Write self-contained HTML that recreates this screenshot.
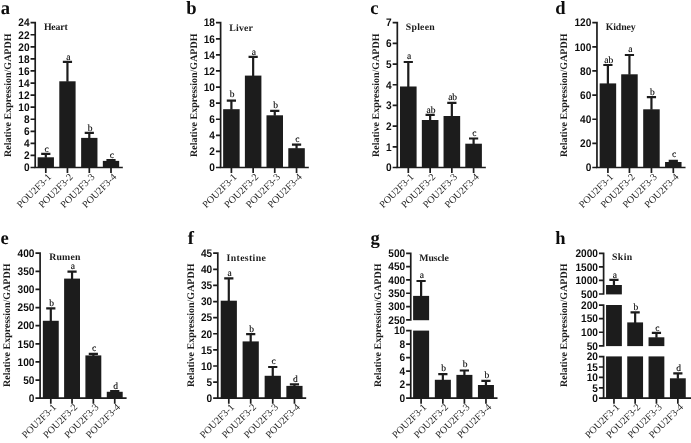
<!DOCTYPE html>
<html lang="en"><head><meta charset="utf-8"><title>Relative expression of POU2F3 transcripts in tissues</title>
<style>
html,body{margin:0;padding:0;background:#fff;}
body{width:691px;height:443px;overflow:hidden;}
svg{display:block;text-rendering:geometricPrecision;}
.pl{font-family:"Liberation Serif", "Times New Roman", Times, serif;font-weight:bold;font-size:18.6px;fill:#111;}
.tt{font-family:"Liberation Serif", "Times New Roman", Times, serif;font-weight:bold;font-size:9.8px;fill:#1a1a1a;}
.yl{font-family:"Liberation Serif", "Times New Roman", Times, serif;font-weight:bold;font-size:10px;fill:#1a1a1a;}
.tk{font-family:"Liberation Sans", Arial, Helvetica, sans-serif;font-weight:bold;font-size:11px;fill:#111;text-anchor:end;}
.sg{font-family:"Liberation Serif", "Times New Roman", Times, serif;font-size:9.5px;fill:#000;stroke:#000;stroke-width:0.12px;text-anchor:middle;}
.xl{font-family:"Liberation Serif", "Times New Roman", Times, serif;font-size:10px;fill:#1e1e1e;text-anchor:end;}
.ax{stroke:#1c1c1c;stroke-width:1.7;fill:none;}
.er{stroke:#1c1c1c;stroke-width:2.2;fill:none;}
.br{fill:#1c1c1c;}
</style></head><body>
<svg width="691" height="443" viewBox="0 0 691 443">
<defs><filter id="soft" x="0" y="0" width="691" height="443" filterUnits="userSpaceOnUse"><feGaussianBlur stdDeviation="0.38"/></filter></defs>
<rect x="0" y="0" width="691" height="443" fill="#ffffff"/>
<g filter="url(#soft)">
<g>
<text class="pl" x="0.8" y="13.9">a</text>
<text class="tt" x="43.9" y="29.7" textLength="23.9" lengthAdjust="spacing">Heart</text>
<text class="yl" text-anchor="middle" transform="translate(11.2 95.25) rotate(-90)" textLength="123.5" lengthAdjust="spacing">Relative Expression/GAPDH</text>
<rect class="br" x="37.65" y="157.3" width="16.3" height="10.2"/>
<path class="er" d="M45.8 157.8V153.9M41.2 153.9H50.4"/>
<text class="sg" x="46.6" y="152">c</text>
<rect class="br" x="59.3" y="81.3" width="16.3" height="86.2"/>
<path class="er" d="M67.45 81.8V61.8M62.85 61.8H72.05"/>
<text class="sg" x="68.25" y="59.6">a</text>
<rect class="br" x="81.15" y="137.9" width="16.3" height="29.6"/>
<path class="er" d="M89.3 138.4V132.9M84.7 132.9H93.9"/>
<text class="sg" x="90.1" y="130.6">b</text>
<rect class="br" x="102.85" y="160.9" width="16.3" height="6.6"/>
<path class="er" d="M111 161.4V160M106.4 160H115.6"/>
<text class="sg" x="111.8" y="158.2">c</text>
<path class="ax" d="M35.2 21.85V167.5M35.2 167.5H30.55M35.2 155.43H30.55M35.2 143.37H30.55M35.2 131.3H30.55M35.2 119.23H30.55M35.2 107.17H30.55M35.2 95.1H30.55M35.2 83.03H30.55M35.2 70.97H30.55M35.2 58.9H30.55M35.2 46.83H30.55M35.2 34.77H30.55M35.2 22.7H30.55"/>
<text class="tk" x="29.6" y="171.25" textLength="5.63" lengthAdjust="spacingAndGlyphs">0</text>
<text class="tk" x="29.6" y="159.18" textLength="5.63" lengthAdjust="spacingAndGlyphs">2</text>
<text class="tk" x="29.6" y="147.12" textLength="5.63" lengthAdjust="spacingAndGlyphs">4</text>
<text class="tk" x="29.6" y="135.05" textLength="5.63" lengthAdjust="spacingAndGlyphs">6</text>
<text class="tk" x="29.6" y="122.98" textLength="5.63" lengthAdjust="spacingAndGlyphs">8</text>
<text class="tk" x="29.6" y="110.92" textLength="11.25" lengthAdjust="spacingAndGlyphs">10</text>
<text class="tk" x="29.6" y="98.85" textLength="11.25" lengthAdjust="spacingAndGlyphs">12</text>
<text class="tk" x="29.6" y="86.78" textLength="11.25" lengthAdjust="spacingAndGlyphs">14</text>
<text class="tk" x="29.6" y="74.72" textLength="11.25" lengthAdjust="spacingAndGlyphs">16</text>
<text class="tk" x="29.6" y="62.65" textLength="11.25" lengthAdjust="spacingAndGlyphs">18</text>
<text class="tk" x="29.6" y="50.58" textLength="11.25" lengthAdjust="spacingAndGlyphs">20</text>
<text class="tk" x="29.6" y="38.52" textLength="11.25" lengthAdjust="spacingAndGlyphs">22</text>
<text class="tk" x="29.6" y="26.45" textLength="11.25" lengthAdjust="spacingAndGlyphs">24</text>
<path class="ax" d="M34.35 167.5H122.8M45.8 167.5V173M67.45 167.5V173M89.3 167.5V173M111 167.5V173"/>
<text class="xl" transform="translate(51.8 177.5) rotate(-45)">POU2F3-1</text>
<text class="xl" transform="translate(73.45 177.5) rotate(-45)">POU2F3-2</text>
<text class="xl" transform="translate(95.3 177.5) rotate(-45)">POU2F3-3</text>
<text class="xl" transform="translate(117 177.5) rotate(-45)">POU2F3-4</text>
</g>
<g>
<text class="pl" x="186.3" y="13.9">b</text>
<text class="tt" x="229.3" y="31.2" textLength="23.6" lengthAdjust="spacing">Liver</text>
<text class="yl" text-anchor="middle" transform="translate(197 95.25) rotate(-90)" textLength="123.5" lengthAdjust="spacing">Relative Expression/GAPDH</text>
<rect class="br" x="223.15" y="109.2" width="16.5" height="58.3"/>
<path class="er" d="M231.4 109.7V100.6M226.8 100.6H236"/>
<text class="sg" x="232.2" y="97">b</text>
<rect class="br" x="244.9" y="75.6" width="16.5" height="91.9"/>
<path class="er" d="M253.15 76.1V56.9M248.55 56.9H257.75"/>
<text class="sg" x="253.95" y="54.8">a</text>
<rect class="br" x="266.5" y="115.3" width="16.5" height="52.2"/>
<path class="er" d="M274.75 115.8V110.8M270.15 110.8H279.35"/>
<text class="sg" x="275.55" y="107.8">b</text>
<rect class="br" x="288.3" y="148.2" width="16.5" height="19.3"/>
<path class="er" d="M296.55 148.7V144.6M291.95 144.6H301.15"/>
<text class="sg" x="297.35" y="141.6">c</text>
<path class="ax" d="M220.6 21.85V167.5M220.6 167.5H215.95M220.6 151.41H215.95M220.6 135.32H215.95M220.6 119.23H215.95M220.6 103.14H215.95M220.6 87.06H215.95M220.6 70.97H215.95M220.6 54.88H215.95M220.6 38.79H215.95M220.6 22.7H215.95"/>
<text class="tk" x="215" y="171.25" textLength="5.63" lengthAdjust="spacingAndGlyphs">0</text>
<text class="tk" x="215" y="155.16" textLength="5.63" lengthAdjust="spacingAndGlyphs">2</text>
<text class="tk" x="215" y="139.07" textLength="5.63" lengthAdjust="spacingAndGlyphs">4</text>
<text class="tk" x="215" y="122.98" textLength="5.63" lengthAdjust="spacingAndGlyphs">6</text>
<text class="tk" x="215" y="106.89" textLength="5.63" lengthAdjust="spacingAndGlyphs">8</text>
<text class="tk" x="215" y="90.81" textLength="11.25" lengthAdjust="spacingAndGlyphs">10</text>
<text class="tk" x="215" y="74.72" textLength="11.25" lengthAdjust="spacingAndGlyphs">12</text>
<text class="tk" x="215" y="58.63" textLength="11.25" lengthAdjust="spacingAndGlyphs">14</text>
<text class="tk" x="215" y="42.54" textLength="11.25" lengthAdjust="spacingAndGlyphs">16</text>
<text class="tk" x="215" y="26.45" textLength="11.25" lengthAdjust="spacingAndGlyphs">18</text>
<path class="ax" d="M219.75 167.5H308.8M231.4 167.5V173M253.15 167.5V173M274.75 167.5V173M296.55 167.5V173"/>
<text class="xl" transform="translate(237.4 177.5) rotate(-45)">POU2F3-1</text>
<text class="xl" transform="translate(259.15 177.5) rotate(-45)">POU2F3-2</text>
<text class="xl" transform="translate(280.75 177.5) rotate(-45)">POU2F3-3</text>
<text class="xl" transform="translate(302.55 177.5) rotate(-45)">POU2F3-4</text>
</g>
<g>
<text class="pl" x="370.2" y="13.7">c</text>
<text class="tt" x="405.8" y="30" textLength="28.9" lengthAdjust="spacing">Spleen</text>
<text class="yl" text-anchor="middle" transform="translate(379.4 95.25) rotate(-90)" textLength="123.5" lengthAdjust="spacing">Relative Expression/GAPDH</text>
<rect class="br" x="400" y="86.5" width="16.6" height="81"/>
<path class="er" d="M408.3 87V62M403.7 62H412.9"/>
<text class="sg" x="409.1" y="58.9">a</text>
<rect class="br" x="421.85" y="120" width="16.6" height="47.5"/>
<path class="er" d="M430.15 120.5V114.8M425.55 114.8H434.75"/>
<text class="sg" x="430.95" y="112.6">ab</text>
<rect class="br" x="443.55" y="116" width="16.6" height="51.5"/>
<path class="er" d="M451.85 116.5V102.9M447.25 102.9H456.45"/>
<text class="sg" x="452.65" y="100.2">ab</text>
<rect class="br" x="465.3" y="143.7" width="16.6" height="23.8"/>
<path class="er" d="M473.6 144.2V138.5M469 138.5H478.2"/>
<text class="sg" x="474.4" y="136">c</text>
<path class="ax" d="M397.3 21.85V167.5M397.3 167.5H392.65M397.3 146.81H392.65M397.3 126.13H392.65M397.3 105.44H392.65M397.3 84.76H392.65M397.3 64.07H392.65M397.3 43.39H392.65M397.3 22.7H392.65"/>
<text class="tk" x="391.7" y="171.25" textLength="5.63" lengthAdjust="spacingAndGlyphs">0</text>
<text class="tk" x="391.7" y="150.56" textLength="5.63" lengthAdjust="spacingAndGlyphs">1</text>
<text class="tk" x="391.7" y="129.88" textLength="5.63" lengthAdjust="spacingAndGlyphs">2</text>
<text class="tk" x="391.7" y="109.19" textLength="5.63" lengthAdjust="spacingAndGlyphs">3</text>
<text class="tk" x="391.7" y="88.51" textLength="5.63" lengthAdjust="spacingAndGlyphs">4</text>
<text class="tk" x="391.7" y="67.82" textLength="5.63" lengthAdjust="spacingAndGlyphs">5</text>
<text class="tk" x="391.7" y="47.14" textLength="5.63" lengthAdjust="spacingAndGlyphs">6</text>
<text class="tk" x="391.7" y="26.45" textLength="5.63" lengthAdjust="spacingAndGlyphs">7</text>
<path class="ax" d="M396.45 167.5H485.8M408.3 167.5V173M430.15 167.5V173M451.85 167.5V173M473.6 167.5V173"/>
<text class="xl" transform="translate(414.3 177.5) rotate(-45)">POU2F3-1</text>
<text class="xl" transform="translate(436.15 177.5) rotate(-45)">POU2F3-2</text>
<text class="xl" transform="translate(457.85 177.5) rotate(-45)">POU2F3-3</text>
<text class="xl" transform="translate(479.6 177.5) rotate(-45)">POU2F3-4</text>
</g>
<g>
<text class="pl" x="555.2" y="13.9">d</text>
<text class="tt" x="605.7" y="29.9" textLength="29.9" lengthAdjust="spacing">Kidney</text>
<text class="yl" text-anchor="middle" transform="translate(567.2 95.25) rotate(-90)" textLength="123.5" lengthAdjust="spacing">Relative Expression/GAPDH</text>
<rect class="br" x="599.65" y="83.4" width="16.5" height="84.1"/>
<path class="er" d="M607.9 83.9V65M603.3 65H612.5"/>
<text class="sg" x="608.7" y="62.5">ab</text>
<rect class="br" x="621.2" y="74.3" width="16.5" height="93.2"/>
<path class="er" d="M629.45 74.8V55M624.85 55H634.05"/>
<text class="sg" x="630.25" y="52.4">a</text>
<rect class="br" x="643.2" y="109.3" width="16.5" height="58.2"/>
<path class="er" d="M651.45 109.8V97.2M646.85 97.2H656.05"/>
<text class="sg" x="652.25" y="94.5">b</text>
<rect class="br" x="665.05" y="162" width="16.5" height="5.5"/>
<path class="er" d="M673.3 162.5V160.8M668.7 160.8H677.9"/>
<text class="sg" x="674.1" y="157.4">c</text>
<path class="ax" d="M596.95 21.85V167.5M596.95 167.5H592.3M596.95 143.37H592.3M596.95 119.23H592.3M596.95 95.1H592.3M596.95 70.97H592.3M596.95 46.83H592.3M596.95 22.7H592.3"/>
<text class="tk" x="591.35" y="171.25" textLength="5.63" lengthAdjust="spacingAndGlyphs">0</text>
<text class="tk" x="591.35" y="147.12" textLength="11.25" lengthAdjust="spacingAndGlyphs">20</text>
<text class="tk" x="591.35" y="122.98" textLength="11.25" lengthAdjust="spacingAndGlyphs">40</text>
<text class="tk" x="591.35" y="98.85" textLength="11.25" lengthAdjust="spacingAndGlyphs">60</text>
<text class="tk" x="591.35" y="74.72" textLength="11.25" lengthAdjust="spacingAndGlyphs">80</text>
<text class="tk" x="591.35" y="50.58" textLength="16.88" lengthAdjust="spacingAndGlyphs">100</text>
<text class="tk" x="591.35" y="26.45" textLength="16.88" lengthAdjust="spacingAndGlyphs">120</text>
<path class="ax" d="M596.1 167.5H685.5M607.9 167.5V173M629.45 167.5V173M651.45 167.5V173M673.3 167.5V173"/>
<text class="xl" transform="translate(613.9 177.5) rotate(-45)">POU2F3-1</text>
<text class="xl" transform="translate(635.45 177.5) rotate(-45)">POU2F3-2</text>
<text class="xl" transform="translate(657.45 177.5) rotate(-45)">POU2F3-3</text>
<text class="xl" transform="translate(679.3 177.5) rotate(-45)">POU2F3-4</text>
</g>
<g>
<text class="pl" x="0.5" y="244.2">e</text>
<text class="tt" x="49.2" y="260" textLength="31.2" lengthAdjust="spacing">Rumen</text>
<text class="yl" text-anchor="middle" transform="translate(10.3 325.25) rotate(-90)" textLength="123.5" lengthAdjust="spacing">Relative Expression/GAPDH</text>
<rect class="br" x="42.85" y="320.8" width="15.9" height="77.4"/>
<path class="er" d="M50.8 321.3V308.4M46.2 308.4H55.4"/>
<text class="sg" x="51.6" y="305.7">b</text>
<rect class="br" x="64.1" y="278.6" width="15.9" height="119.6"/>
<path class="er" d="M72.05 279.1V271.6M67.45 271.6H76.65"/>
<text class="sg" x="72.85" y="269.1">a</text>
<rect class="br" x="85.4" y="355.4" width="15.9" height="42.8"/>
<path class="er" d="M93.35 355.9V353.9M88.75 353.9H97.95"/>
<text class="sg" x="94.15" y="350.7">c</text>
<rect class="br" x="106.8" y="391.8" width="15.9" height="6.4"/>
<path class="er" d="M114.75 392.3V391M110.15 391H119.35"/>
<text class="sg" x="115.55" y="388.8">d</text>
<path class="ax" d="M40.1 252.35V398.2M40.1 398.2H35.45M40.1 380.07H35.45M40.1 361.95H35.45M40.1 343.82H35.45M40.1 325.7H35.45M40.1 307.57H35.45M40.1 289.45H35.45M40.1 271.32H35.45M40.1 253.2H35.45"/>
<text class="tk" x="34.5" y="401.95" textLength="5.63" lengthAdjust="spacingAndGlyphs">0</text>
<text class="tk" x="34.5" y="383.82" textLength="11.25" lengthAdjust="spacingAndGlyphs">50</text>
<text class="tk" x="34.5" y="365.7" textLength="16.88" lengthAdjust="spacingAndGlyphs">100</text>
<text class="tk" x="34.5" y="347.57" textLength="16.88" lengthAdjust="spacingAndGlyphs">150</text>
<text class="tk" x="34.5" y="329.45" textLength="16.88" lengthAdjust="spacingAndGlyphs">200</text>
<text class="tk" x="34.5" y="311.32" textLength="16.88" lengthAdjust="spacingAndGlyphs">250</text>
<text class="tk" x="34.5" y="293.2" textLength="16.88" lengthAdjust="spacingAndGlyphs">300</text>
<text class="tk" x="34.5" y="275.07" textLength="16.88" lengthAdjust="spacingAndGlyphs">350</text>
<text class="tk" x="34.5" y="256.95" textLength="16.88" lengthAdjust="spacingAndGlyphs">400</text>
<path class="ax" d="M39.25 398.2H126.6M50.8 398.2V403.7M72.05 398.2V403.7M93.35 398.2V403.7M114.75 398.2V403.7"/>
<text class="xl" transform="translate(56.8 407.6) rotate(-45)">POU2F3-1</text>
<text class="xl" transform="translate(78.05 407.6) rotate(-45)">POU2F3-2</text>
<text class="xl" transform="translate(99.35 407.6) rotate(-45)">POU2F3-3</text>
<text class="xl" transform="translate(120.75 407.6) rotate(-45)">POU2F3-4</text>
</g>
<g>
<text class="pl" x="187.7" y="244.2">f</text>
<text class="tt" x="226.6" y="260.5" textLength="39.2" lengthAdjust="spacing">Intestine</text>
<text class="yl" text-anchor="middle" transform="translate(194.3 325.25) rotate(-90)" textLength="123.5" lengthAdjust="spacing">Relative Expression/GAPDH</text>
<rect class="br" x="220.7" y="300.7" width="16.2" height="97.5"/>
<path class="er" d="M228.8 301.2V278.4M224.2 278.4H233.4"/>
<text class="sg" x="229.6" y="275.6">a</text>
<rect class="br" x="242.6" y="341.4" width="16.2" height="56.8"/>
<path class="er" d="M250.7 341.9V334.2M246.1 334.2H255.3"/>
<text class="sg" x="251.5" y="331.7">b</text>
<rect class="br" x="264.65" y="375.8" width="16.2" height="22.4"/>
<path class="er" d="M272.75 376.3V367M268.15 367H277.35"/>
<text class="sg" x="273.55" y="364.2">c</text>
<rect class="br" x="286.35" y="385.9" width="16.2" height="12.3"/>
<path class="er" d="M294.45 386.4V384.3M289.85 384.3H299.05"/>
<text class="sg" x="295.25" y="382.1">d</text>
<path class="ax" d="M217.8 252.35V398.2M217.8 398.2H213.15M217.8 382.09H213.15M217.8 365.98H213.15M217.8 349.87H213.15M217.8 333.76H213.15M217.8 317.64H213.15M217.8 301.53H213.15M217.8 285.42H213.15M217.8 269.31H213.15M217.8 253.2H213.15"/>
<text class="tk" x="212.2" y="401.95" textLength="5.63" lengthAdjust="spacingAndGlyphs">0</text>
<text class="tk" x="212.2" y="385.84" textLength="5.63" lengthAdjust="spacingAndGlyphs">5</text>
<text class="tk" x="212.2" y="369.73" textLength="11.25" lengthAdjust="spacingAndGlyphs">10</text>
<text class="tk" x="212.2" y="353.62" textLength="11.25" lengthAdjust="spacingAndGlyphs">15</text>
<text class="tk" x="212.2" y="337.51" textLength="11.25" lengthAdjust="spacingAndGlyphs">20</text>
<text class="tk" x="212.2" y="321.39" textLength="11.25" lengthAdjust="spacingAndGlyphs">25</text>
<text class="tk" x="212.2" y="305.28" textLength="11.25" lengthAdjust="spacingAndGlyphs">30</text>
<text class="tk" x="212.2" y="289.17" textLength="11.25" lengthAdjust="spacingAndGlyphs">35</text>
<text class="tk" x="212.2" y="273.06" textLength="11.25" lengthAdjust="spacingAndGlyphs">40</text>
<text class="tk" x="212.2" y="256.95" textLength="11.25" lengthAdjust="spacingAndGlyphs">45</text>
<path class="ax" d="M216.95 398.2H306.2M228.8 398.2V403.7M250.7 398.2V403.7M272.75 398.2V403.7M294.45 398.2V403.7"/>
<text class="xl" transform="translate(234.8 407.6) rotate(-45)">POU2F3-1</text>
<text class="xl" transform="translate(256.7 407.6) rotate(-45)">POU2F3-2</text>
<text class="xl" transform="translate(278.75 407.6) rotate(-45)">POU2F3-3</text>
<text class="xl" transform="translate(300.45 407.6) rotate(-45)">POU2F3-4</text>
</g>
<g>
<text class="pl" x="370.6" y="244.2">g</text>
<text class="tt" x="419.3" y="260.5" textLength="29.5" lengthAdjust="spacing">Muscle</text>
<text class="yl" text-anchor="middle" transform="translate(381.1 325.25) rotate(-90)" textLength="123.5" lengthAdjust="spacing">Relative Expression/GAPDH</text>
<rect class="br" x="413.1" y="295.9" width="16" height="24.3"/>
<rect class="br" x="413.1" y="330.6" width="16" height="67.6"/>
<path class="er" d="M421.1 296.4V281M416.5 281H425.7"/>
<text class="sg" x="421.9" y="277.6">a</text>
<rect class="br" x="434.85" y="379.8" width="16" height="18.4"/>
<path class="er" d="M442.85 380.3V374.1M438.25 374.1H447.45"/>
<text class="sg" x="443.65" y="370.8">b</text>
<rect class="br" x="456.4" y="374.9" width="16" height="23.3"/>
<path class="er" d="M464.4 375.4V370.5M459.8 370.5H469"/>
<text class="sg" x="465.2" y="367.4">b</text>
<rect class="br" x="477.95" y="385" width="16" height="13.2"/>
<path class="er" d="M485.95 385.5V380.9M481.35 380.9H490.55"/>
<text class="sg" x="486.75" y="377.6">b</text>
<path class="ax" d="M410.75 252.45V320.75M410.75 319.9H406.1M410.75 306.58H406.1M410.75 293.26H406.1M410.75 279.94H406.1M410.75 266.62H406.1M410.75 253.3H406.1"/>
<text class="tk" x="405.15" y="323.65" textLength="16.88" lengthAdjust="spacingAndGlyphs">250</text>
<text class="tk" x="405.15" y="310.33" textLength="16.88" lengthAdjust="spacingAndGlyphs">300</text>
<text class="tk" x="405.15" y="297.01" textLength="16.88" lengthAdjust="spacingAndGlyphs">350</text>
<text class="tk" x="405.15" y="283.69" textLength="16.88" lengthAdjust="spacingAndGlyphs">400</text>
<text class="tk" x="405.15" y="270.37" textLength="16.88" lengthAdjust="spacingAndGlyphs">450</text>
<text class="tk" x="405.15" y="257.05" textLength="16.88" lengthAdjust="spacingAndGlyphs">500</text>
<path class="ax" d="M410.75 329.85V398.2M410.75 398.2H406.1M410.75 384.7H406.1M410.75 371.2H406.1M410.75 357.7H406.1M410.75 344.2H406.1M410.75 330.7H406.1"/>
<text class="tk" x="405.15" y="401.95" textLength="5.63" lengthAdjust="spacingAndGlyphs">0</text>
<text class="tk" x="405.15" y="388.45" textLength="5.63" lengthAdjust="spacingAndGlyphs">2</text>
<text class="tk" x="405.15" y="374.95" textLength="5.63" lengthAdjust="spacingAndGlyphs">4</text>
<text class="tk" x="405.15" y="361.45" textLength="5.63" lengthAdjust="spacingAndGlyphs">6</text>
<text class="tk" x="405.15" y="347.95" textLength="5.63" lengthAdjust="spacingAndGlyphs">8</text>
<text class="tk" x="405.15" y="334.45" textLength="11.25" lengthAdjust="spacingAndGlyphs">10</text>
<path class="ax" d="M409.9 398.2H497.5M421.1 398.2V403.7M442.85 398.2V403.7M464.4 398.2V403.7M485.95 398.2V403.7"/>
<text class="xl" transform="translate(427.1 407.6) rotate(-45)">POU2F3-1</text>
<text class="xl" transform="translate(448.85 407.6) rotate(-45)">POU2F3-2</text>
<text class="xl" transform="translate(470.4 407.6) rotate(-45)">POU2F3-3</text>
<text class="xl" transform="translate(491.95 407.6) rotate(-45)">POU2F3-4</text>
</g>
<g>
<text class="pl" x="555.2" y="244.2">h</text>
<text class="tt" x="612" y="259.8" textLength="20.3" lengthAdjust="spacing">Skin</text>
<text class="yl" text-anchor="middle" transform="translate(566.7 325.25) rotate(-90)" textLength="123.5" lengthAdjust="spacing">Relative Expression/GAPDH</text>
<rect class="br" x="606.05" y="285" width="15.8" height="9.4"/>
<rect class="br" x="606.05" y="305" width="15.8" height="41.1"/>
<rect class="br" x="606.05" y="356.4" width="15.8" height="41.8"/>
<path class="er" d="M613.95 285.5V279.9M609.35 279.9H618.55"/>
<text class="sg" x="614.75" y="277.6">a</text>
<rect class="br" x="627.25" y="322.4" width="15.8" height="23.7"/>
<rect class="br" x="627.25" y="356.4" width="15.8" height="41.8"/>
<path class="er" d="M635.15 322.9V312.3M630.55 312.3H639.75"/>
<text class="sg" x="635.95" y="309.9">b</text>
<rect class="br" x="648.55" y="337.3" width="15.8" height="8.8"/>
<rect class="br" x="648.55" y="356.4" width="15.8" height="41.8"/>
<path class="er" d="M656.45 337.8V332.8M651.85 332.8H661.05"/>
<text class="sg" x="657.25" y="330.7">c</text>
<rect class="br" x="669.95" y="378.3" width="15.8" height="19.9"/>
<path class="er" d="M677.85 378.8V373.3M673.25 373.3H682.45"/>
<text class="sg" x="678.65" y="370.8">d</text>
<path class="ax" d="M603.6 252.45V294.85M603.6 294H598.95M603.6 280.43H598.95M603.6 266.87H598.95M603.6 253.3H598.95"/>
<text class="tk" x="598" y="297.75" textLength="16.88" lengthAdjust="spacingAndGlyphs">500</text>
<text class="tk" x="598" y="284.18" textLength="22.51" lengthAdjust="spacingAndGlyphs">1000</text>
<text class="tk" x="598" y="270.62" textLength="22.51" lengthAdjust="spacingAndGlyphs">1500</text>
<text class="tk" x="598" y="257.05" textLength="22.51" lengthAdjust="spacingAndGlyphs">2000</text>
<path class="ax" d="M603.6 304.25V346.65M603.6 345.8H598.95M603.6 332.23H598.95M603.6 318.67H598.95M603.6 305.1H598.95"/>
<text class="tk" x="598" y="349.55" textLength="11.25" lengthAdjust="spacingAndGlyphs">50</text>
<text class="tk" x="598" y="335.98" textLength="16.88" lengthAdjust="spacingAndGlyphs">100</text>
<text class="tk" x="598" y="322.42" textLength="16.88" lengthAdjust="spacingAndGlyphs">150</text>
<text class="tk" x="598" y="308.85" textLength="16.88" lengthAdjust="spacingAndGlyphs">200</text>
<path class="ax" d="M603.6 355.75V398.2M603.6 398.2H598.95M603.6 387.8H598.95M603.6 377.4H598.95M603.6 367H598.95M603.6 356.6H598.95"/>
<text class="tk" x="598" y="401.95" textLength="5.63" lengthAdjust="spacingAndGlyphs">0</text>
<text class="tk" x="598" y="391.55" textLength="5.63" lengthAdjust="spacingAndGlyphs">5</text>
<text class="tk" x="598" y="381.15" textLength="11.25" lengthAdjust="spacingAndGlyphs">10</text>
<text class="tk" x="598" y="370.75" textLength="11.25" lengthAdjust="spacingAndGlyphs">15</text>
<text class="tk" x="598" y="360.35" textLength="11.25" lengthAdjust="spacingAndGlyphs">20</text>
<path class="ax" d="M602.75 398.2H692M613.95 398.2V403.7M635.15 398.2V403.7M656.45 398.2V403.7M677.85 398.2V403.7"/>
<text class="xl" transform="translate(619.95 407.6) rotate(-45)">POU2F3-1</text>
<text class="xl" transform="translate(641.15 407.6) rotate(-45)">POU2F3-2</text>
<text class="xl" transform="translate(662.45 407.6) rotate(-45)">POU2F3-3</text>
<text class="xl" transform="translate(683.85 407.6) rotate(-45)">POU2F3-4</text>
</g>
</g>
</svg>
</body></html>
